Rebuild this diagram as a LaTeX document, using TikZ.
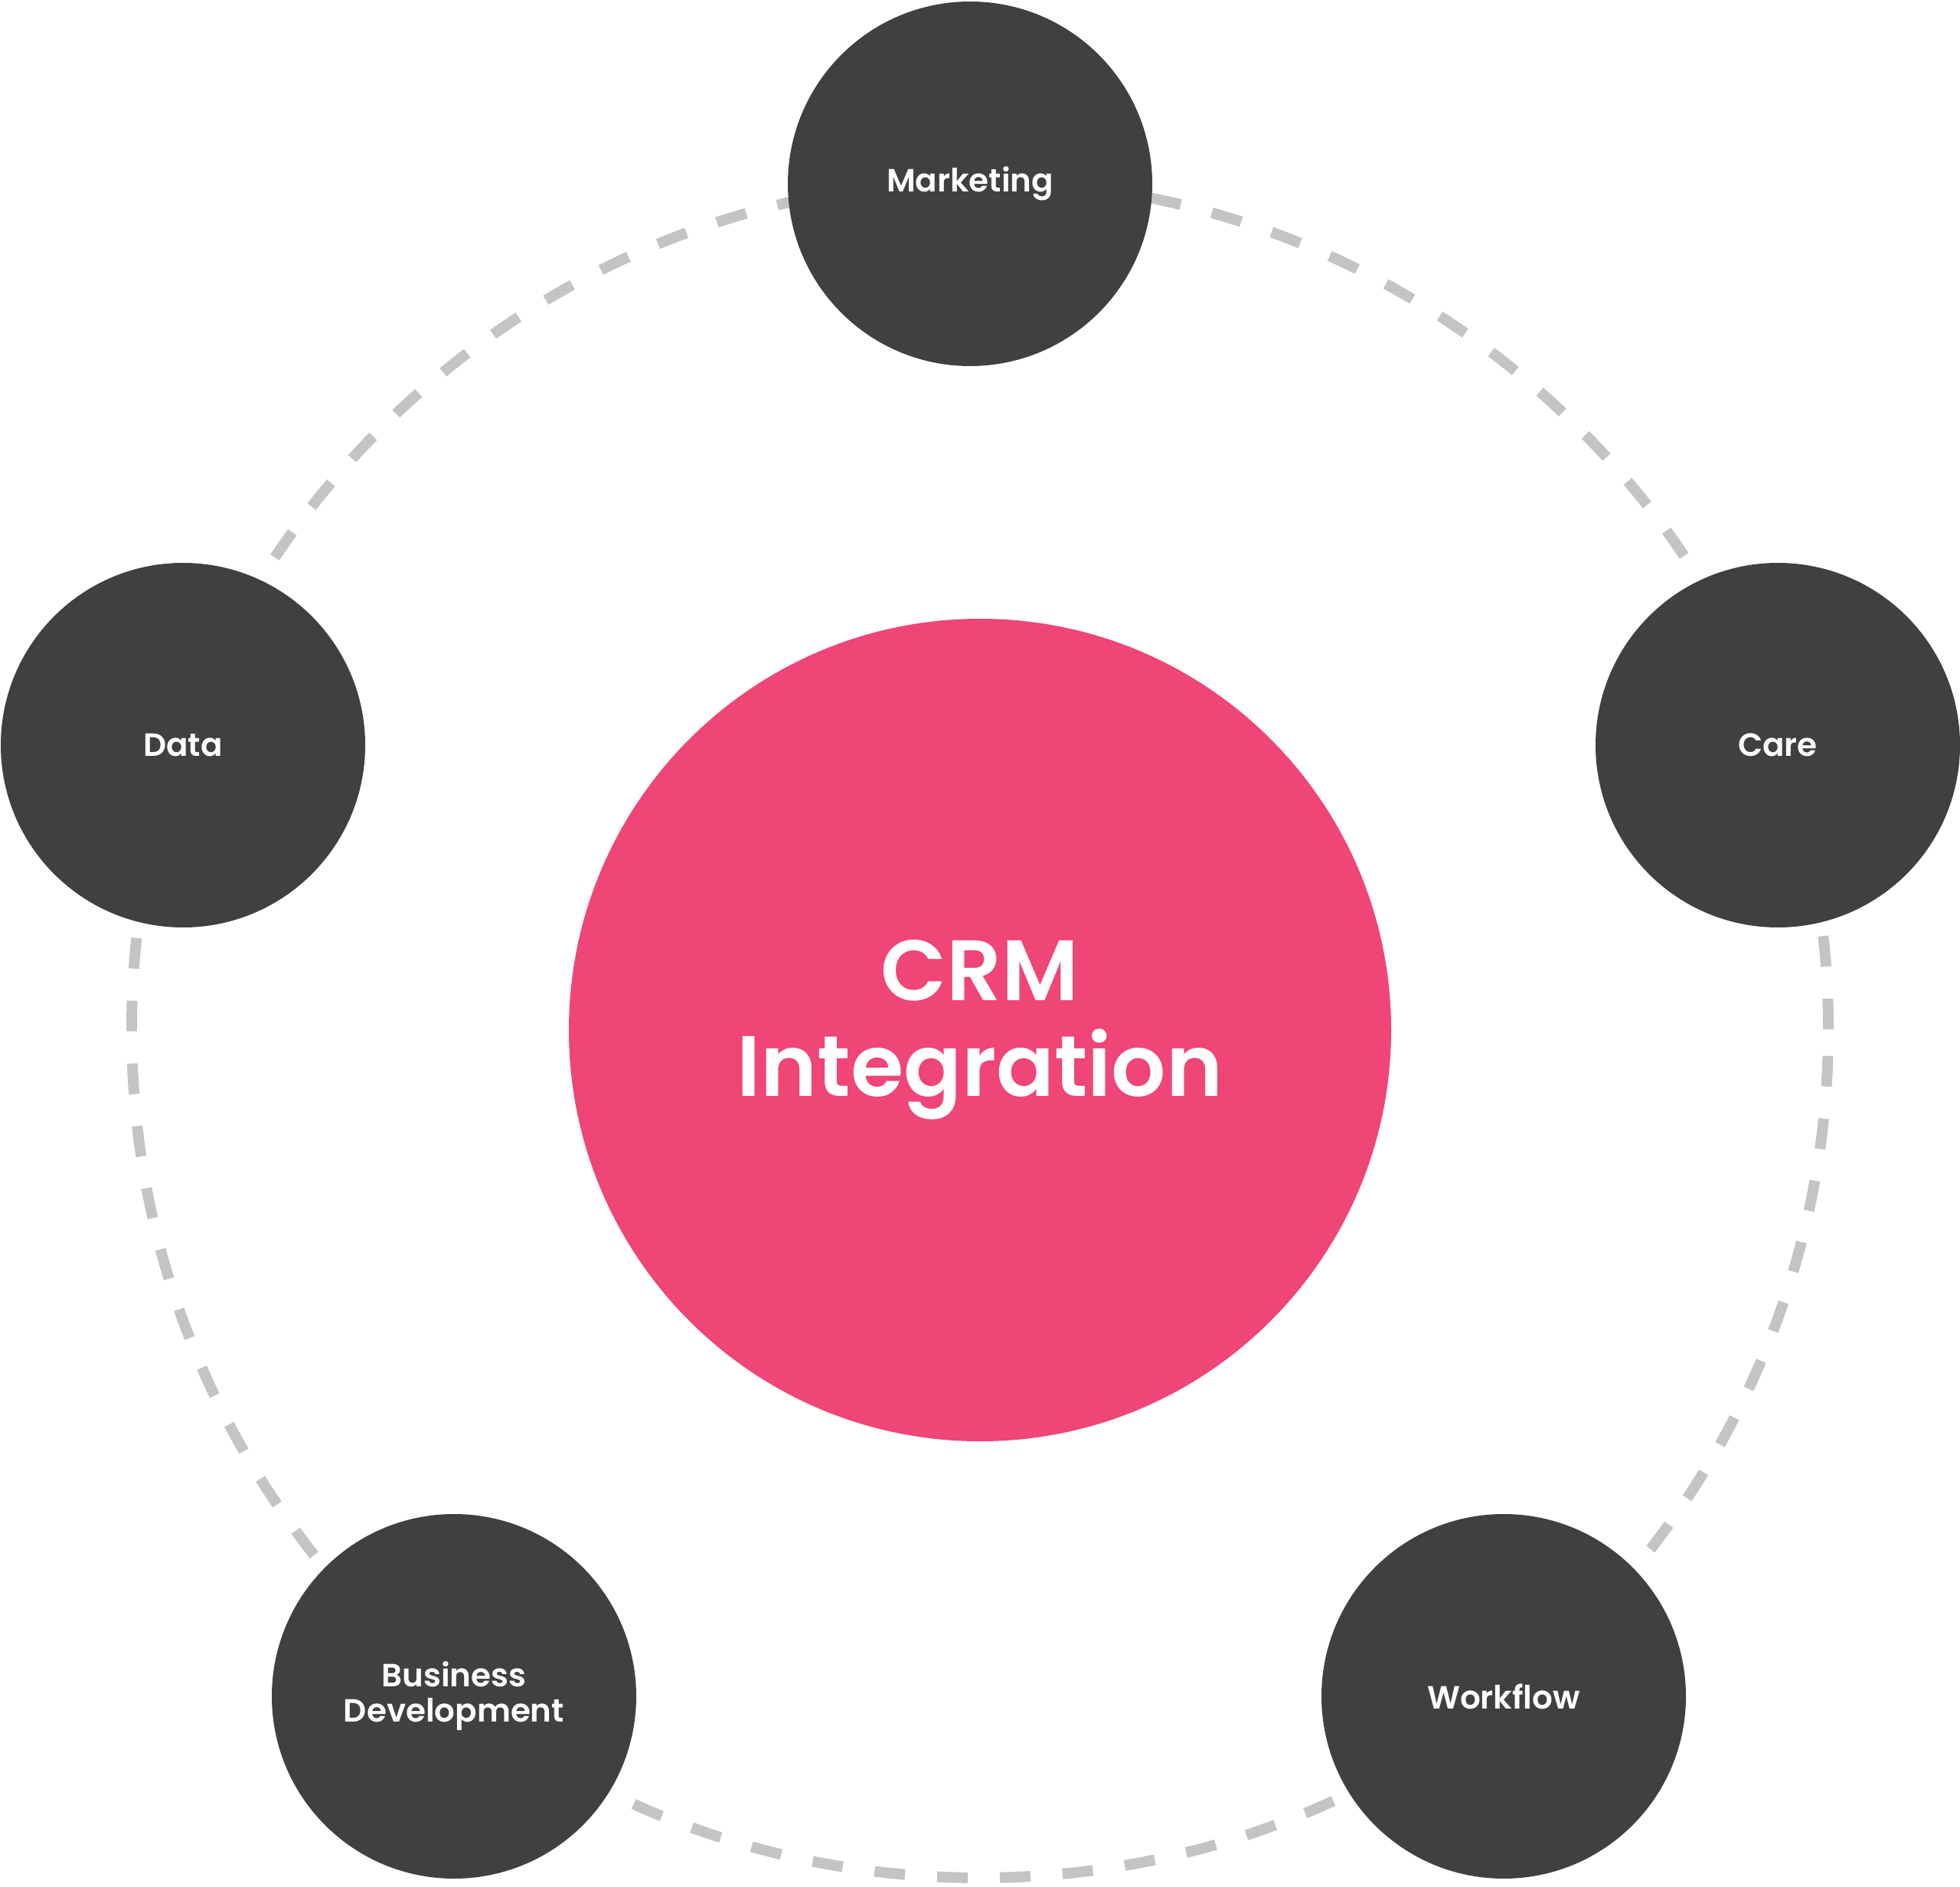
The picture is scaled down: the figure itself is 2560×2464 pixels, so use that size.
\documentclass[tikz,border=0pt]{standalone}
\usepackage{fontspec}
\setmainfont{Poppins}[BoldFont={* SemiBold}]
\definecolor{pinkc}{HTML}{EF4577}
\definecolor{darkc}{HTML}{404040}
\definecolor{ringc}{HTML}{C4C4C4}
\begin{document}
\begin{tikzpicture}[x=1pt,y=-1pt,
  sat/.style={circle,fill=darkc,minimum size=476pt,inner sep=0pt,text=white,font=\fontsize{42}{46}\selectfont\bfseries,align=center},
  ring/.style={draw=ringc,line width=14pt,dash pattern=on 40pt off 42pt}]
\useasboundingbox (0,0) rectangle (2560,2464);
\coordinate (c) at (1280,1344);
\draw[ring] (c) circle[radius=1108pt];
\node[circle,fill=pinkc,minimum size=1074pt,inner sep=0pt,text=white,align=center,font=\fontsize{112}{125}\selectfont\bfseries] (crm) at (1280,1345) {CRM\\Integration};
\node[sat] (mkt) at (1267,240) {Marketing};
\node[sat] (data) at (239,973) {Data};
\node[sat] (care) at (2322,973) {Care};
\node[sat] (bd) at (593,2215) {Business\\Development};
\node[sat] (wf) at (1964,2215) {Workflow};
\end{tikzpicture}
\end{document}
